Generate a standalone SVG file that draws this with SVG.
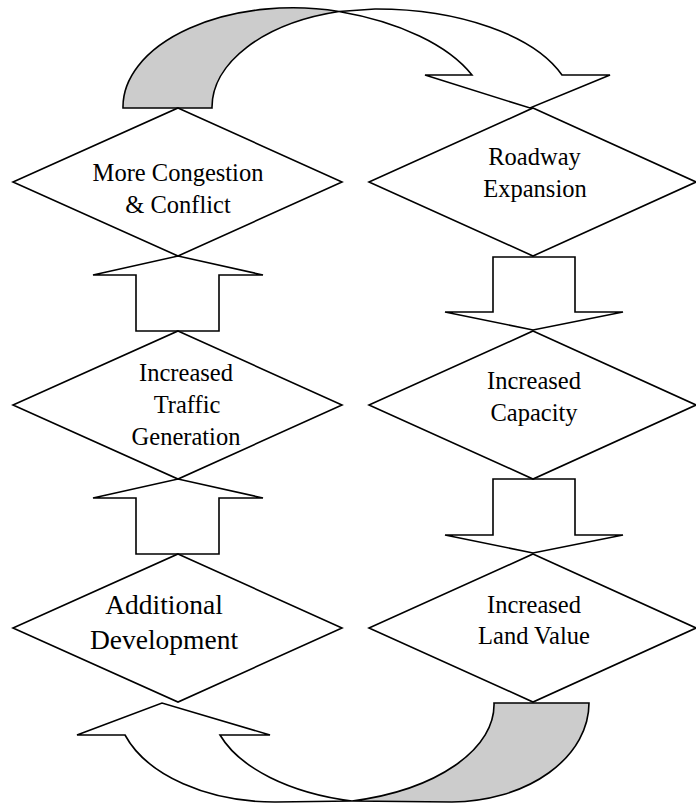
<svg xmlns="http://www.w3.org/2000/svg" width="696" height="804" viewBox="0 0 696 804">
<style>
.shape{fill:#ffffff;stroke:#000000;stroke-width:1.6;stroke-linejoin:miter}
.dark{fill:#cccccc;stroke:#000000;stroke-width:1.6}
.t{font-family:"Liberation Serif","Times New Roman",serif;font-size:24.5px;fill:#000000;text-anchor:middle}
.tl{font-size:27.5px}
</style>
<rect width="696" height="804" fill="#ffffff"/>
<g id="connectors">
  <!-- top curved arrow -->
  <path class="dark" d="M123,108 A170,99 0 0 1 339,11.5 A170,99 0 0 0 212,108 Z"/>
  <path class="shape" d="M425,75 L472,75 A220,110 0 0 0 339,11.5 L375,9 A197,99 0 0 1 562,75 L610,75 L530,108 Z"/>
  <!-- right column down arrows -->
  <path class="shape" d="M493,257 L575,257 L575,312 L623,312 L533,330 L445,312 L493,312 Z"/>
  <path class="shape" d="M493,479 L575,479 L575,535 L623,535 L533,553 L445,535 L493,535 Z"/>
  <!-- bottom curved arrow -->
  <path class="dark" d="M494,703 L589,703 A138,99 0 0 1 452,802 L352,801 A186,99 0 0 0 494,703 Z"/>
  <path class="shape" d="M220,735 L270,735 L162,703 L77,735 L125,735 A158,99 0 0 0 276,802 L352,801 A182,99 0 0 1 220,735 Z"/>
  <!-- left column up arrows -->
  <path class="shape" d="M136,554 L219,554 L219,498 L263,498 L178,479 L93,498 L136,498 Z"/>
  <path class="shape" d="M136,331 L219,331 L219,275 L263,275 L178,256 L93,275 L136,275 Z"/>
</g>
<g id="node-congestion">
  <polygon class="shape" points="178,108 342,182 178,256 13,182"/>
  <text class="t" x="178" y="181">More Congestion</text>
  <text class="t" x="178" y="213">&amp; Conflict</text>
</g>
<g id="node-roadway">
  <polygon class="shape" points="533,108 696,182 533,256 369,182"/>
  <text class="t" x="534.5" y="165">Roadway</text>
  <text class="t" x="535" y="197">Expansion</text>
</g>
<g id="node-traffic">
  <polygon class="shape" points="178,331 342,405 178,479 13,405"/>
  <text class="t" x="186" y="381">Increased</text>
  <text class="t" x="187" y="413">Traffic</text>
  <text class="t" x="186" y="445">Generation</text>
</g>
<g id="node-capacity">
  <polygon class="shape" points="533,331 696,405 533,479 369,405"/>
  <text class="t" x="534" y="389">Increased</text>
  <text class="t" x="534" y="421">Capacity</text>
</g>
<g id="node-development">
  <polygon class="shape" points="178,554 342,628 178,702 13,628"/>
  <text class="t tl" x="164" y="614">Additional</text>
  <text class="t tl" x="164" y="649">Development</text>
</g>
<g id="node-landvalue">
  <polygon class="shape" points="533,554 696,628 533,702 369,628"/>
  <text class="t" x="534" y="613">Increased</text>
  <text class="t" x="534" y="644">Land Value</text>
</g>
</svg>
